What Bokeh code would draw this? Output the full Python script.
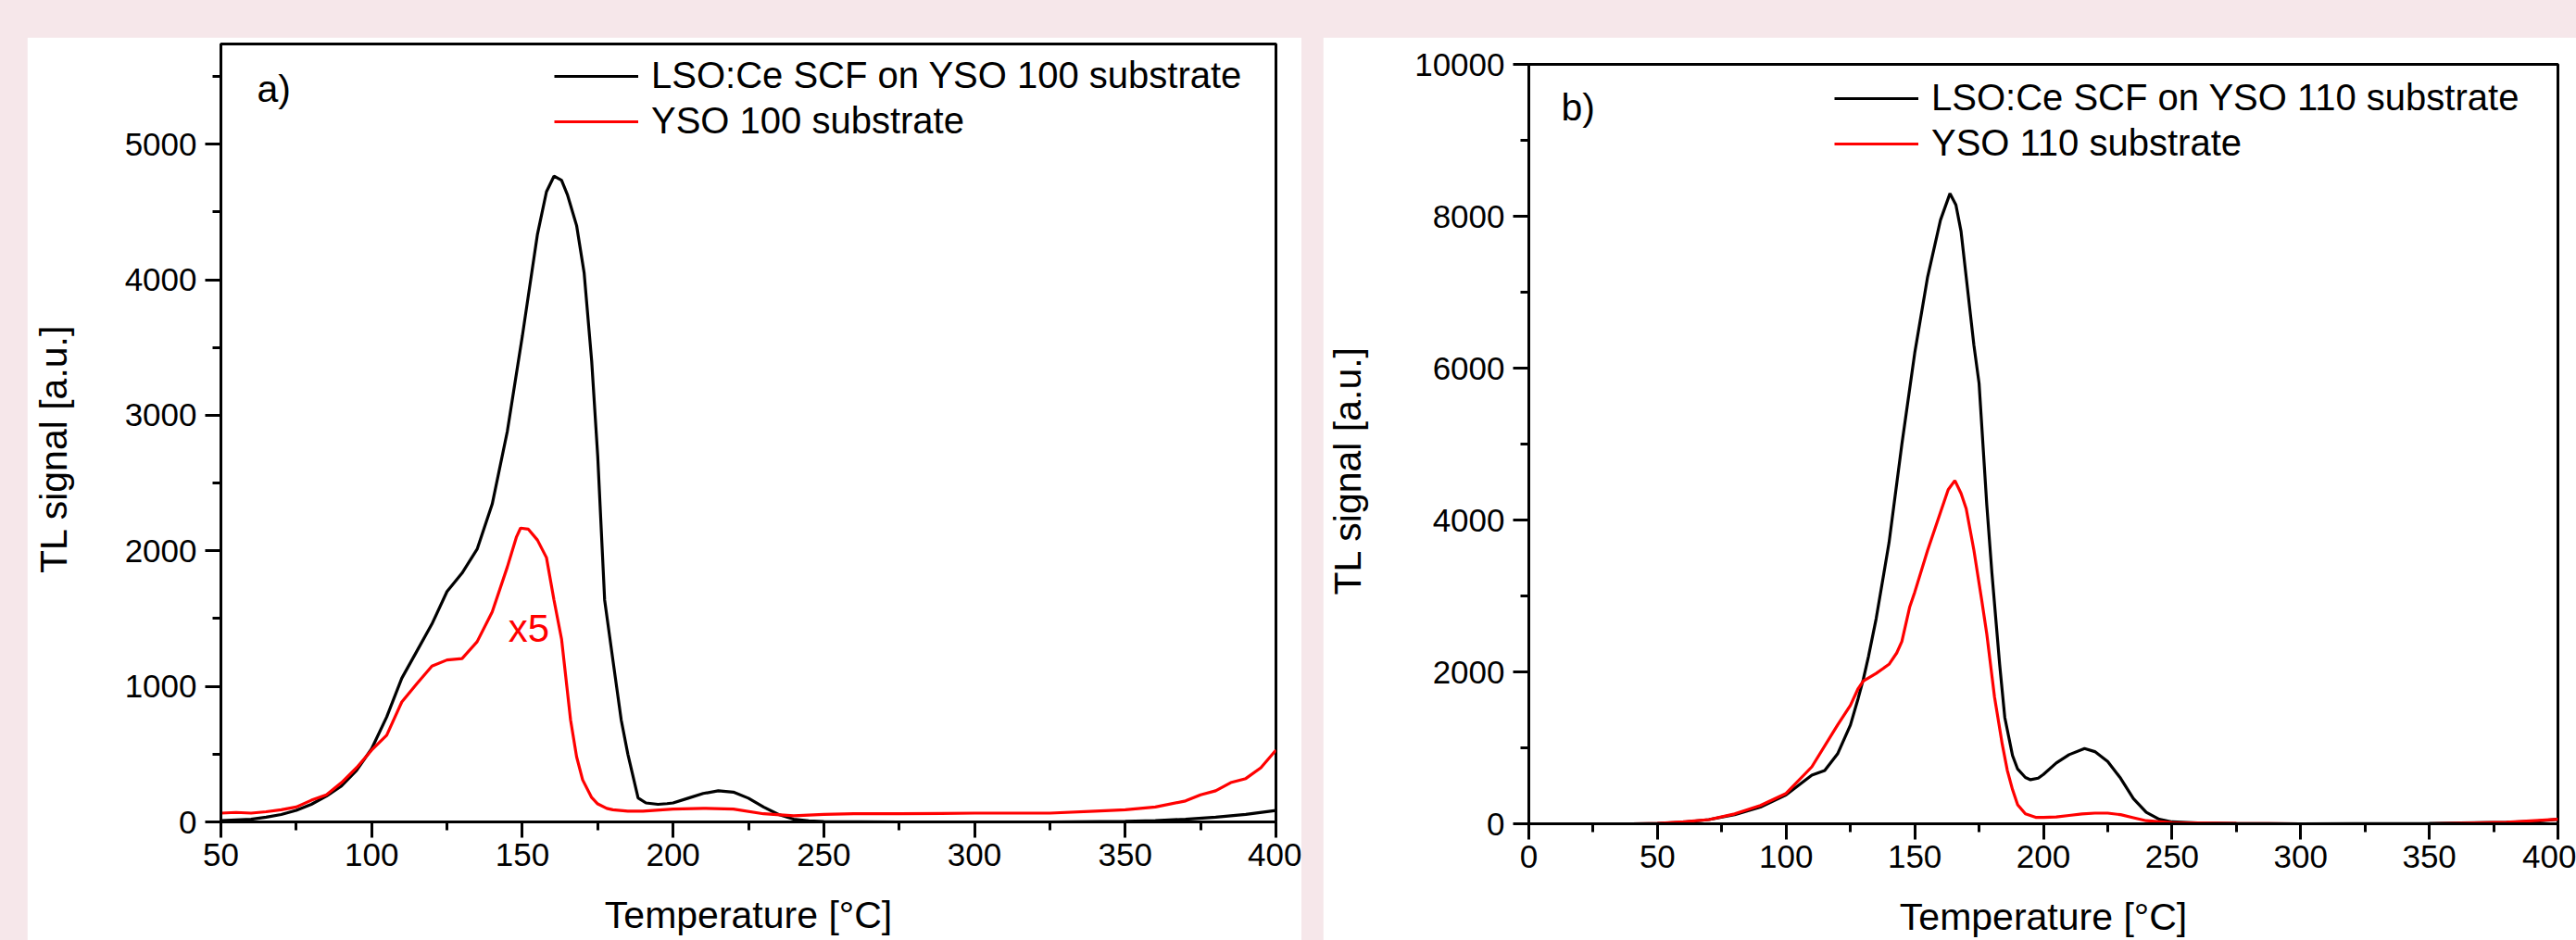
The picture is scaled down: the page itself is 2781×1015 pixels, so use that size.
from bokeh.plotting import figure
from bokeh.models import FixedTicker, Label, Legend, LegendItem
from bokeh.layouts import row
from bokeh.embed import file_html
from bokeh.resources import INLINE

# ---------------- data ----------------
# panel a) : LSO:Ce SCF on YSO 100 substrate
a_lso_temp = [50, 55, 60, 65, 70, 75, 80, 85, 90, 95, 100, 105, 110, 115, 120, 125, 130, 135, 140,
              145, 150, 155, 158, 160.5, 163, 165, 168, 170.5, 173, 175, 177.3, 180, 182.8, 185,
              188.4, 191, 195, 198, 200, 205, 210, 215, 220, 225, 230, 235, 240, 245, 250, 275,
              300, 325, 350, 360, 370, 380, 390, 400]
a_lso = [10, 15, 20, 35, 55, 85, 130, 190, 265, 380, 540, 775, 1060, 1260, 1460, 1700, 1836, 2013,
         2345, 2880, 3585, 4335, 4650, 4765, 4735, 4625, 4400, 4050, 3400, 2700, 1637, 1200, 752,
         500, 177, 140, 130, 135, 140, 175, 210, 230, 220, 175, 110, 55, 20, 8, 2, 0,
         0, 0, 5, 10, 20, 35, 55, 85]
# panel a) : YSO 100 substrate (x5)
a_yso_temp = [50, 55, 60, 65, 70, 75, 80, 85, 90, 95, 100, 105, 110, 115, 120, 125, 130, 135, 140,
              145, 148, 149.4, 152, 155, 158, 160.5, 163, 166, 168, 170, 173, 175, 178, 180, 185,
              190, 200, 210, 220, 230, 240, 250, 260, 275, 300, 325, 340, 350, 360, 370, 375,
              380, 385, 390, 395, 400]
a_yso = [65, 70, 65, 75, 90, 110, 160, 200, 290, 400, 530, 640, 885, 1020, 1150, 1195, 1205, 1330,
         1550, 1880, 2100, 2168, 2160, 2080, 1950, 1637, 1350, 752, 480, 310, 180, 133, 100, 90, 80,
         80, 95, 100, 95, 60, 45, 55, 60, 60, 65, 65, 80, 90, 110, 155, 200,
         230, 290, 320, 400, 530]

# panel b) : LSO:Ce SCF on YSO 110 substrate
b_lso_temp = [0, 10, 20, 30, 40, 50, 60, 70, 80, 90, 100, 110, 115, 120, 125, 128, 130, 132, 135,
              138, 140, 145, 150, 155, 160, 163.7, 166, 168, 170, 173, 175, 178, 180, 183, 185,
              188, 190, 193, 195, 198, 200, 205, 210, 216, 220, 225, 230, 235, 240, 245, 250,
              260, 275, 300, 350, 380, 390, 400]
b_lso = [0, 0, 0, 0, 0, 5, 20, 55, 120, 220, 380, 640, 700, 920, 1300, 1650, 1900, 2200, 2700,
         3300, 3700, 5000, 6200, 7200, 7950, 8300, 8150, 7800, 7200, 6300, 5800, 4200, 3300, 2100,
         1400, 900, 720, 610, 580, 600, 650, 800, 910, 990, 950, 820, 600, 330, 150, 60, 25,
         10, 5, 0, 5, 20, 30, 60]
# panel b) : YSO 110 substrate
b_yso_temp = [0, 10, 20, 30, 40, 50, 60, 70, 80, 90, 100, 110, 120, 125, 128, 130, 135, 140, 143,
              145, 148, 150, 155, 160, 163, 165.6, 168, 170, 173, 176, 178, 181, 184, 186, 188,
              190, 193, 197, 200, 205, 210, 215, 220, 225, 230, 235, 240, 250, 275, 300, 350,
              380, 400]
b_yso = [0, 0, 0, 0, 0, 5, 25, 55, 130, 240, 400, 750, 1300, 1560, 1780, 1880, 1980, 2100, 2250,
         2400, 2850, 3050, 3600, 4100, 4400, 4520, 4350, 4150, 3600, 2950, 2500, 1670, 1050, 700,
         450, 250, 130, 85, 85, 90, 110, 130, 140, 140, 120, 80, 40, 15, 5, 0, 0,
         20, 60]

# ticks
a_x_ticks = [50, 100, 150, 200, 250, 300, 350, 400]
a_x_minor = [75, 125, 175, 225, 275, 325, 375]
a_y_ticks = [0, 1000, 2000, 3000, 4000, 5000]
a_y_minor = [500, 1500, 2500, 3500, 4500, 5500]
b_x_ticks = [0, 50, 100, 150, 200, 250, 300, 350, 400]
b_x_minor = [25, 75, 125, 175, 225, 275, 325, 375]
b_y_ticks = [0, 2000, 4000, 6000, 8000, 10000]
b_y_minor = [1000, 3000, 5000, 7000, 9000]

a_labels = ["LSO:Ce SCF on YSO 100 substrate", "YSO 100 substrate"]
b_labels = ["LSO:Ce SCF on YSO 110 substrate", "YSO 110 substrate"]

# ---------------- styling ----------------
PINK = "#f6e7ea"
FONT = "Liberation Sans"
RED = "#ff0000"
NBSP = "\u00a0"


def style_axes(p, xt, xm, yt, ym, y_label_standoff, y_pad):
    for ax in (p.xaxis[0], p.yaxis[0]):
        ax.axis_line_width = 3
        ax.axis_line_color = "black"
        ax.major_tick_line_width = 3
        ax.minor_tick_line_width = 3
        ax.major_tick_out = 17
        ax.major_tick_in = 0
        ax.minor_tick_out = 9
        ax.minor_tick_in = 0
        ax.major_label_text_font = FONT
        ax.major_label_text_font_size = "35px"
        ax.major_label_text_color = "black"
        ax.axis_label_text_font = FONT
        ax.axis_label_text_font_size = "41px"
        ax.axis_label_text_font_style = "normal"
        ax.axis_label_text_color = "black"
    p.xaxis[0].ticker = FixedTicker(ticks=xt, minor_ticks=xm)
    p.yaxis[0].ticker = FixedTicker(ticks=yt, minor_ticks=ym)
    p.xaxis[0].major_label_standoff = 6
    p.yaxis[0].major_label_standoff = 9
    p.xaxis[0].axis_label_standoff = 27
    p.yaxis[0].axis_label_standoff = y_label_standoff
    p.xaxis[0].axis_label = "Temperature [°C]"
    # trailing non-breaking spaces nudge the rotated label down, as in the reference
    p.yaxis[0].axis_label = "TL signal [a.u.]" + NBSP * y_pad
    p.grid.visible = False
    p.outline_line_color = "black"
    p.outline_line_width = 3
    p.outline_line_alpha = 1


def make_panel(width, height, xr, yr, borders, margin, t1, v1, t2, v2, labels,
               xt, xm, yt, ym, y_label_standoff, y_pad, legend_loc):
    p = figure(width=width, height=height, x_range=xr, y_range=yr,
               output_backend="svg", toolbar_location=None, title_location=None,
               min_border_left=borders[0], min_border_right=borders[1],
               min_border_top=borders[2], min_border_bottom=borders[3],
               margin=margin, frame_align=False,
               background_fill_color="white", border_fill_color="white")
    style_axes(p, xt, xm, yt, ym, y_label_standoff, y_pad)
    r1 = p.line(t1, v1, line_color="black", line_width=3.2)
    r2 = p.line(t2, v2, line_color=RED, line_width=3.2)
    leg = Legend(items=[LegendItem(label=labels[0], renderers=[r1]),
                        LegendItem(label=labels[1], renderers=[r2])],
                 location=legend_loc)
    leg.label_text_font = FONT
    leg.label_text_font_size = "40px"
    leg.label_text_color = "black"
    leg.glyph_width = 91
    leg.glyph_height = 20
    leg.label_standoff = 14
    leg.spacing = 4
    leg.padding = 0
    leg.margin = 0
    leg.border_line_color = None
    leg.background_fill_alpha = 0
    p.add_layout(leg)
    return p


pa = make_panel(1376, 975, (50, 400), (0, 5740), (209, 28, 7, 128), (40, 0, 0, 29),
                a_lso_temp, a_lso, a_yso_temp, a_yso, a_labels,
                a_x_ticks, a_x_minor, a_y_ticks, a_y_minor, 51, 3, (360, 734))
pa.add_layout(Label(x=62, y=5410, text="a)", text_font=FONT, text_font_size="41px",
                    text_color="black", text_baseline="alphabetic"))
pa.add_layout(Label(x=145.3, y=1428, text="x5", text_font=FONT, text_font_size="42px",
                    text_color=RED, text_baseline="alphabetic"))

pb = make_panel(1353, 975, (0, 400), (0, 10000), (222, 20, 29, 126), (40, 0, 0, 23),
                b_lso_temp, b_lso, b_yso_temp, b_yso, b_labels,
                b_x_ticks, b_x_minor, b_y_ticks, b_y_minor, 46, 5, (330, 712))
pb.add_layout(Label(x=12.6, y=9430, text="b)", text_font=FONT, text_font_size="41px",
                    text_color="black", text_baseline="alphabetic"))

layout = row(pa, pb, styles={"background-color": PINK})

open("out.html", "w").write(file_html(layout, INLINE))
